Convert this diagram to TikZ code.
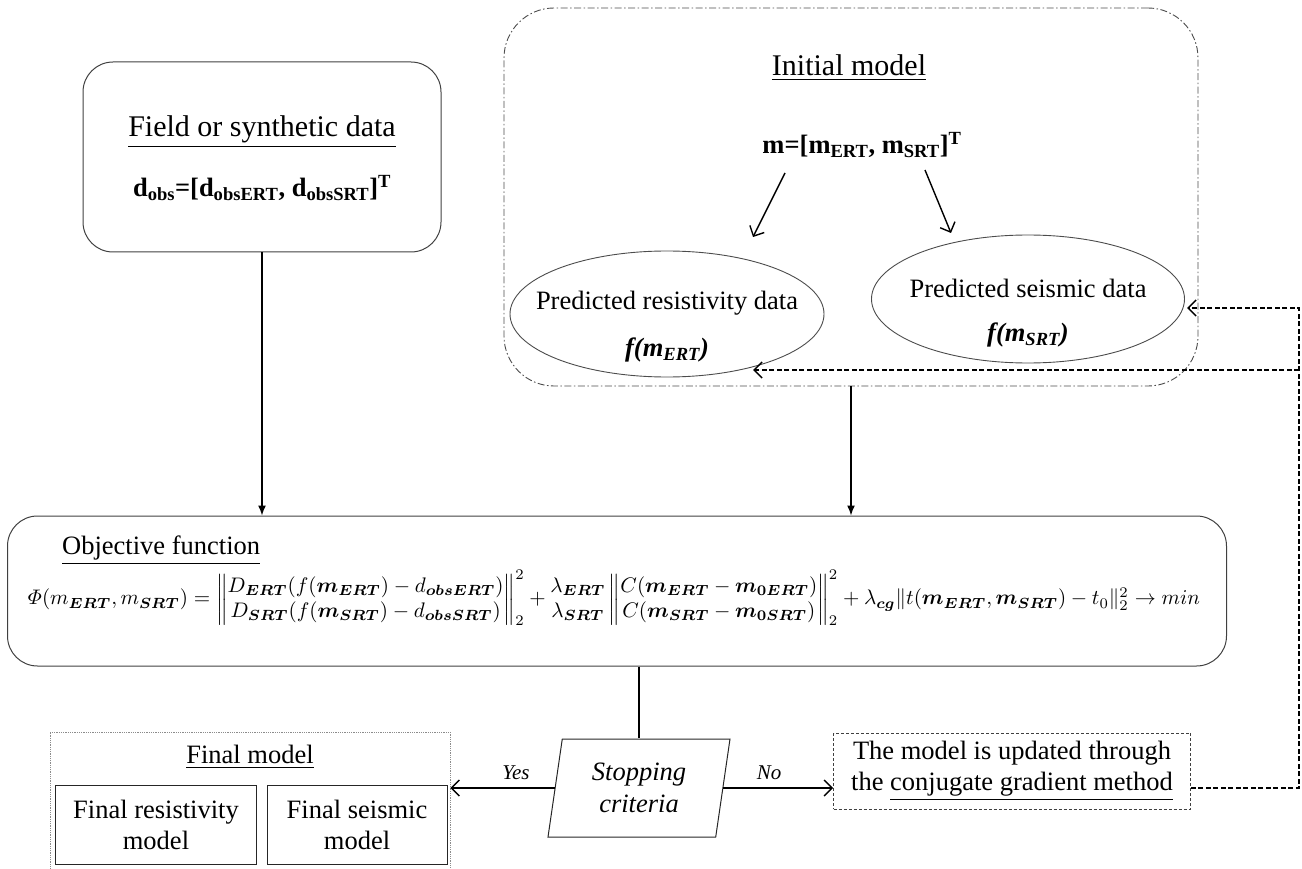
\documentclass[tikz,border=0pt]{standalone}
\usepackage{fontspec}
\setmainfont{Liberation Serif}
\usepackage{amsmath,bm,graphicx}
\usetikzlibrary{arrows.meta,shapes.geometric}

\begin{document}
\begin{tikzpicture}[x=1pt, y=-1pt, >=latex,
    txt/.style={inner sep=0pt, font=\fontsize{26.5}{31}\selectfont},
    bigtxt/.style={inner sep=0pt, font=\fontsize{30}{34}\selectfont},
    lbl/.style={inner sep=0pt, font=\itshape\fontsize{21}{25}\selectfont},
    roundbox/.style={draw=black!75, line width=1pt, rounded corners=30pt, inner sep=0pt},
    plainbox/.style={draw=black!85, line width=1pt, align=center},
    oval/.style={ellipse, draw=black!70, line width=0.9pt, inner sep=0pt},
    flow/.style={line width=1.4pt, -{Latex[length=10pt,width=8pt]}},
    barb/.style={line width=1.4pt, -{Straight Barb[length=8pt,width=16pt]}},
    fback/.style={line width=1.5pt, dash pattern=on 5pt off 2.5pt, -{Straight Barb[length=8pt,width=16pt]}}]
\useasboundingbox (0,0) rectangle (1302,869);

\node[roundbox, minimum width=358pt, minimum height=190pt] (field) at (262,157) {};
\node[bigtxt] (fieldtitle) at (262,132) {\underline{Field or synthetic data}};
\node[txt] (fieldeq) at (262,188) {\textbf{d\textsubscript{obs}=[d\textsubscript{obsERT}, d\textsubscript{obsSRT}]\textsuperscript{T}}};

\node[draw=black!70, line width=0.9pt, rounded corners=50pt, dash pattern=on 7pt off 2.5pt on 1.5pt off 2.5pt,
    minimum width=694pt, minimum height=378pt] (init) at (851,197) {};
\node[bigtxt] (inittitle) at (849,68) {\underline{Initial model}};
\node[txt] (initeq) at (862,145) {\textbf{m=[m\textsubscript{ERT}, m\textsubscript{SRT}]\textsuperscript{T}}};
\node[oval, minimum width=314pt, minimum height=126pt] (perr) at (667,314) {};
\node[txt] (perrtxt) at (667,303) {Predicted resistivity data};
\node[txt] (perrf) at (667,350) {\textbf{\textit{f(m\textsubscript{ERT})}}};
\node[oval, minimum width=313pt, minimum height=128pt] (pseis) at (1028,299) {};
\node[txt] (pseistxt) at (1028,288) {Predicted seismic data};
\node[txt] (pseisf) at (1028,335) {\textbf{\textit{f(m\textsubscript{SRT})}}};
\coordinate (e1) at (785,173);
\coordinate (e1t) at (753,237);
\coordinate (e2) at (925,170);
\coordinate (e2t) at (951,233);
\draw[barb] (e1) -- (e1t);
\draw[barb] (e2) -- (e2t);

\node[roundbox, minimum width=1219pt, minimum height=150pt] (obj) at (617,591) {};
\node[txt, anchor=west] (objtitle) at (62,550) {\underline{Objective function}};
\node[inner sep=0pt] (objeq) at (614,598) {\resizebox{1172pt}{!}{$\varPhi(m_{\bm{ERT}}, m_{\bm{SRT}}) =
    \left\|\begin{matrix} D_{\bm{ERT}}(f(\bm{m}_{\bm{ERT}}) - d_{\bm{obsERT}})\\ D_{\bm{SRT}}(f(\bm{m}_{\bm{SRT}}) - d_{\bm{obsSRT}})\end{matrix}\right\|_2^2
    + \begin{matrix}\lambda_{\bm{ERT}}\\ \lambda_{\bm{SRT}}\end{matrix}
    \left\|\begin{matrix} C(\bm{m}_{\bm{ERT}} - \bm{m}_{\bm{0ERT}})\\ C(\bm{m}_{\bm{SRT}} - \bm{m}_{\bm{0SRT}})\end{matrix}\right\|_2^2
    + \lambda_{\bm{cg}}\|t(\bm{m}_{\bm{ERT}}, \bm{m}_{\bm{SRT}}) - t_0\|_2^2 \to min$}};
\draw[flow] (field.south) -- (field.south |- obj.north);
\draw[flow] (init.south) -- (init.south |- obj.north);

\node[trapezium, trapezium left angle=74, trapezium right angle=106, trapezium stretches body,
    draw=black!85, line width=1pt, minimum width=182pt, minimum height=98pt, inner sep=0pt, align=center,
    font=\itshape\fontsize{26.5}{32}\selectfont] (stop) at (639,788) {Stopping\\criteria};
\draw[line width=1.4pt] (stop.north |- obj.south) -- (stop.north);

\node[draw=black!45, densely dotted, line width=0.8pt, minimum width=400pt, minimum height=146pt] (final) at (250,805) {};
\node[txt] (finaltitle) at (250,757) {\underline{Final model}};
\node[txt, plainbox, minimum width=201pt, minimum height=79pt] (finres) at (156,825) {Final resistivity\\model};
\node[txt, plainbox, minimum width=180pt, minimum height=79pt] (finseis) at (357,825) {Final seismic\\model};

\node[txt, draw=black!75, densely dashed, line width=0.9pt, align=center, minimum width=357pt, minimum height=76pt] (update) at (1012,771)
    {The model is updated through\\the \underline{conjugate gradient method}};

\draw[barb] (stop.west) -- (stop.west -| final.east);
\node[lbl] (yes) at (516,773) {Yes};
\draw[barb] (stop.east) -- (stop.east -| update.west);
\node[lbl] (no) at (769,773) {No};

\coordinate (fbx) at (1299,0);
\coordinate (fbs) at (1187,308);
\coordinate (fbe) at (753,370);
\draw[fback] (stop.east -| update.east) -- (stop.east -| fbx) -- (fbx |- fbs) -- (fbs);
\draw[fback] (fbx |- fbe) -- (fbe);
\end{tikzpicture}
\end{document}
